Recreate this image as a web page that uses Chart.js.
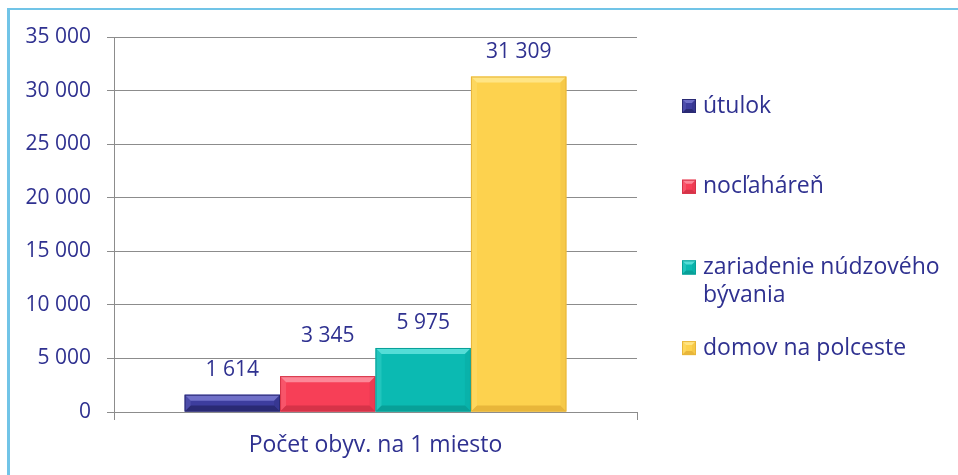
<!DOCTYPE html>
<html>
<head>
<meta charset="utf-8">
<script src="https://cdn.jsdelivr.net/npm/chart.js@4"></script>
<style>
    html, body { margin: 0; padding: 0; background: #fff; }
    #wrap { position: relative; width: 958px; height: 475px; overflow: hidden; }
    #frame {
        position: absolute; left: 7px; top: 8px; right: -10px; bottom: -10px;
        border-left: 3px solid #71C4E7; border-top: 2px solid #71C4E7;
    }
    canvas { position: absolute; left: 0; top: 0; }
</style>
</head>
<body>
<div id="wrap">
    <div id="frame"></div>
    <canvas id="chart" width="958" height="475"></canvas>
</div>
<script>
// dáta
const categories = ['Počet obyv. na 1 miesto'];
const seriesNames = ['útulok', 'nocľaháreň', 'zariadenie núdzového bývania', 'domov na polceste'];
const seriesValues = [1614, 3345, 5975, 31309];
const yTicks = [0, 5000, 10000, 15000, 20000, 25000, 30000, 35000];

// farby: plocha, svetlá hrana, tmavá hrana
const faceColors = ['#3D3D9E', '#F73F57', '#0BBAB2', '#FDD24E'];
const lightColors = ['#7070C8', '#FC8898', '#55DDD7', '#FFE585'];
const darkColors = ['#2A2A74', '#D63348', '#08A098', '#E8B63A'];

// posun popisu hodnoty nahor (kvôli prekrytiu)
const labelLift = [0, 15, 0, 0];

const TEXT = '#2F3190';
const FONT = '"Open Sans", sans-serif';
const GRID = '#8C8C8C';

function fmt(v) {
    return String(v).replace(/\B(?=(\d{3})+(?!\d))/g, ' ');
}

// vystúpený okraj (bevel) obdĺžnika
function bevelRect(ctx, x, y, w, h, i, b) {
    b = Math.min(b, w / 2, h / 2);
    ctx.fillStyle = faceColors[i];
    ctx.fillRect(x, y, w, h);
    const poly = (pts, color) => {
        ctx.beginPath();
        ctx.moveTo(pts[0][0], pts[0][1]);
        pts.slice(1).forEach(p => ctx.lineTo(p[0], p[1]));
        ctx.closePath();
        ctx.fillStyle = color;
        ctx.fill();
    };
    poly([[x, y], [x + w, y], [x + w - b, y + b], [x + b, y + b]], lightColors[i]);
    poly([[x, y + h], [x + w, y + h], [x + w - b, y + h - b], [x + b, y + h - b]], darkColors[i]);
    ctx.globalAlpha = 0.3;
    poly([[x, y], [x + b, y + b], [x + b, y + h - b], [x, y + h]], lightColors[i]);
    poly([[x + w, y], [x + w - b, y + b], [x + w - b, y + h - b], [x + w, y + h]], darkColors[i]);
    ctx.globalAlpha = 1;
    ctx.strokeStyle = darkColors[i];
    ctx.lineWidth = 1;
    ctx.strokeRect(x + 0.5, y + 0.5, w - 1, h - 1);
}

const bevelBars = {
    id: 'bevelBars',
    afterDatasetsDraw(chart) {
        const ctx = chart.ctx;
        ctx.save();
        chart.data.datasets.forEach((ds, i) => {
            chart.getDatasetMeta(i).data.forEach((bar, j) => {
                const x = bar.x - bar.width / 2;
                const top = Math.min(bar.y, bar.base);
                const h = Math.abs(bar.base - bar.y);
                bevelRect(ctx, x, top, bar.width, h, i, 6);

                // hodnota nad stĺpcom
                ctx.fillStyle = TEXT;
                ctx.font = '21px ' + FONT;
                ctx.textAlign = 'center';
                ctx.textBaseline = 'middle';
                ctx.fillText(fmt(ds.data[j]), bar.x, top - 25 - labelLift[i]);
            });
        });
        ctx.restore();
    }
};

// legenda vpravo
const sideLegend = {
    id: 'sideLegend',
    afterDraw(chart) {
        const ctx = chart.ctx;
        ctx.save();
        ctx.font = '23px ' + FONT;
        ctx.textBaseline = 'middle';
        ctx.textAlign = 'left';
        const lines = [['útulok'], ['nocľaháreň'], ['zariadenie núdzového', 'bývania'], ['domov na polceste']];
        chart.data.datasets.forEach((ds, i) => {
            const y = 106 + i * 80.7;
            bevelRect(ctx, 682, y - 7, 14, 14, i, 4);
            ctx.fillStyle = TEXT;
            lines[i].forEach((t, k) => ctx.fillText(t, 703, y + k * 28));
        });
        ctx.restore();
    }
};

new Chart(document.getElementById('chart'), {
    type: 'bar',
    data: {
        labels: categories,
        datasets: seriesNames.map((name, i) => ({
            label: name,
            data: [seriesValues[i]],
            backgroundColor: 'rgba(0,0,0,0)',
            borderWidth: 0,
            barPercentage: 1,
            categoryPercentage: 0.73
        }))
    },
    options: {
        responsive: false,
        animation: false,
        layout: { padding: { top: 37, right: 321, bottom: 0, left: 0 } },
        plugins: {
            legend: { display: false },
            tooltip: { enabled: false }
        },
        scales: {
            x: {
                offset: true,
                grid: { offset: true, drawOnChartArea: false, color: GRID, tickLength: 8 },
                border: { color: GRID },
                ticks: { color: TEXT, font: { size: 23, family: FONT }, padding: 12 },
                afterFit(scale) { scale.height = 63; }
            },
            y: {
                min: 0,
                max: 35000,
                afterBuildTicks(scale) { scale.ticks = yTicks.map(v => ({ value: v })); },
                grid: { color: GRID, tickLength: 7 },
                border: { color: GRID },
                ticks: {
                    color: TEXT,
                    font: { size: 21, family: FONT },
                    padding: 16,
                    callback: v => fmt(v)
                },
                afterFit(scale) { scale.width = 114; }
            }
        }
    },
    plugins: [bevelBars, sideLegend]
});
</script>
</body>
</html>
